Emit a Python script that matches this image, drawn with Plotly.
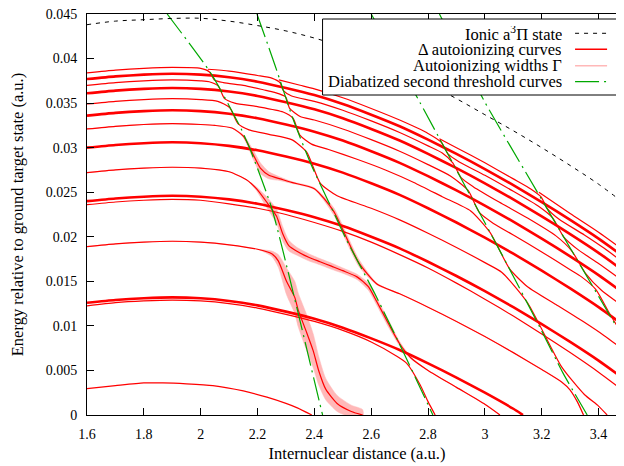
import plotly.graph_objects as go

# ---------------- data (a.u.) ----------------
grid_x = [1.6, 1.7, 1.8, 1.9, 2.0, 2.1, 2.2, 2.3, 2.4, 2.5, 2.6, 2.7, 2.8, 2.9, 3.0, 3.1, 3.2, 3.3, 3.4, 3.5]
ionic_y = [0.0438, 0.0442, 0.04436, 0.0445, 0.04452, 0.0442, 0.0437, 0.0431, 0.0423, 0.0413,
           0.0401, 0.0387, 0.0372, 0.0355, 0.0337, 0.0319, 0.0300, 0.0280, 0.0259, 0.0235]

# thick (non-interacting) autoionizing curves on grid_x
t6_y = [.0377, .0380, .0382, .0383, .0382, .0379, .0374, .0367, .0359, .0349, .0337, .0324, .0309, .0293, .0276, .0258, .0239, .0219, .0198, .0175]
t5_y = [.0361, .0364, .0366, .0367, .0366, .0363, .0358, .0351, .0343, .0333, .0321, .0308, .0293, .0277, .0260, .0242, .0223, .0203, .0182, .0159]
t4_y = [.0336, .0339, .0341, .0342, .0341, .0338, .0333, .0326, .0318, .0308, .0296, .0283, .0268, .0252, .0235, .0217, .0198, .0178, .0157, .0134]
t3_y = [.0300, .0303, .0305, .0306, .0305, .0302, .0297, .0290, .0282, .0272, .0260, .0247, .0232, .0216, .0199, .0181, .0162, .0142, .0121, .0098]
t2_y = [.0240, .0243, .0245, .0246, .0245, .0242, .0237, .0230, .0222, .0212, .0200, .0187, .0172, .0156, .0139, .0121, .0102, .0082, .0061, .0038]
t2p_y = [.0236, .0239, .0241, .0242, .0241, .0237, .0232, .0225, .0216, .0206, .0194, .0180, .0165, .0148, .0130, .0111, .0091, .0070, .0048, .0024]
t1_x = [1.6, 1.7, 1.8, 1.9, 2.0, 2.1, 2.2, 2.3, 2.4, 2.5, 2.6, 2.7, 2.8, 2.9, 3.0, 3.1, 3.134]
t1_y = [.0126, .0129, .0131, .0132, .0131, .0128, .0123, .0116, .0108, .0098, .0086, .0073, .0058, .0042, .0025, .0007, 0.0]

# interacting autoionizing curves (adiabatic)
t1p_x = [1.6, 1.7, 1.8, 1.9, 2.0, 2.1, 2.2, 2.3, 2.4, 2.5, 2.6, 2.69, 2.725, 2.772, 2.80, 2.825]
t1p_y = [.01225, .0126, .0128, .0129, .0128, .0125, .0120, .0113, .0105, .0095, .0082, .0066, .0058, .0034, .0015, 0.0]

a0_x = [1.6, 1.7, 1.8, 1.867, 1.95, 2.043, 2.15, 2.233, 2.3, 2.34, 2.391]
a0_y = [.00297, .0033, .0036, .0036, .0035, .0033, .0027, .0020, .0013, .0008, 0.0]

a1_x = [1.6, 1.7, 1.8, 1.9, 2.0, 2.1, 2.2, 2.25, 2.273, 2.302, 2.331, 2.343, 2.37, 2.396, 2.415, 2.44, 2.48, 2.53, 2.57]
a1_y = [.0189, .0192, .0194, .0195, .0194, .0191, .0186, .0181, .0173, .0150, .0132, .0118, .0095, .0072, .0050, .0029, .0013, .0004, 0.0]
a1_gamma = [0, 0, 0, 0, 0, 0, 0, .0006, .0014, .0030, .0036, .0038, .0040, .0038, .0032, .0024, .0018, .0014, .0012]

a2_x = [1.6, 1.7, 1.8, 1.9, 2.0, 2.1, 2.161, 2.196, 2.232, 2.267, 2.289, 2.31, 2.337, 2.38, 2.42, 2.46, 2.5,
        2.55, 2.59, 2.62, 2.66, 2.70, 2.74, 2.8, 2.9, 3.0, 3.053]
a2_y = [.0272, .0275, .0277, .0278, .0277, .0273, .0264, .0254, .0239, .0223, .0203, .0190, .0184, .0177, .0172,
        .0167, .0162, .0155, .0144, .0127, .0103, .0080, .0064, .0050, .0031, .0012, 0.0]
a2_gamma = [0, 0, 0, 0, 0, 0, 0, .0004, .0012, .0016, .0016, .0012, .0009, .0008, .0007, .0007, .0006,
            .0006, .0008, .0008, .0008, .0005, .0002, 0, 0, 0, 0]

a3_x = [1.6, 1.7, 1.8, 1.9, 2.0, 2.05, 2.11, 2.15, 2.185, 2.21, 2.24, 2.28, 2.32, 2.4, 2.467, 2.556, 2.62, 2.7,
        2.8, 2.9, 3.0, 3.1, 3.2, 3.27, 3.30, 3.325, 3.347]
a3_y = [.0321, .0324, .0326, .0327, .0326, .0325, .0322, .0313, .0292, .0277, .0269, .0265, .0261, .0254, .0229,
        .0171, .0147, .0136, .0121, .0105, .0088, .0070, .0051, .0037, .0028, .0015, 0.0]
a3_gamma = [0, 0, 0, 0, 0, 0, 0, .0003, .0010, .0012, .0008, .0004, .0002, .0002, .0008, .0008, .0002,
            0, 0, 0, 0, 0, 0, 0, 0, 0, 0]

a4_x = [1.6, 1.7, 1.8, 1.9, 2.0, 2.06, 2.102, 2.131, 2.17, 2.24, 2.32, 2.373, 2.421, 2.48, 2.6, 2.7, 2.8,
        2.9, 3.0, 3.06, 3.15, 3.27, 3.35, 3.4, 3.43]
a4_y = [.0349, .0352, .0354, .0355, .0354, .0352, .0345, .0327, .0320, .0315, .0309, .0295, .0260, .0246, .0232,
        .0219, .0204, .0188, .0171, .0160, .0126, .0054, .0023, .0010, 0.0]

a5_x = [1.6, 1.7, 1.8, 1.9, 2.0, 2.03, 2.062, 2.084, 2.12, 2.2, 2.29, 2.325, 2.349, 2.39, 2.45, 2.55, 2.65,
        2.75, 2.85, 2.95, 3.018, 3.087, 3.15, 3.25, 3.35, 3.42, 3.5]
a5_y = [.0370, .0373, .0375, .0376, .0375, .0374, .0369, .0355, .0350, .0346, .0340, .0333, .0314, .0304, .0298,
        .0287, .0275, .0261, .0245, .0229, .0205, .0164, .0144, .0124, .0104, .0089, .0070]

a6_x = [1.6, 1.7, 1.8, 1.9, 2.0, 2.031, 2.048, 2.08, 2.15, 2.22, 2.26, 2.299, 2.313, 2.35, 2.4, 2.5, 2.6, 2.7,
        2.8, 2.88, 2.941, 2.981, 3.03, 3.1, 3.2, 3.3, 3.34, 3.39, 3.44, 3.5]
a6_y = [.0384, .0387, .0389, .0390, .0389, .0385, .0376, .0373, .0370, .0365, .0362, .0357, .0344, .0335, .0331,
        .0321, .0309, .0296, .0281, .0268, .0252, .0227, .0215, .0202, .0183, .0163, .0155, .0141, .0113, .0082]

n1_x = [2.025, 2.1, 2.2, 2.25, 2.279, 2.291, 2.32, 2.4, 2.5, 2.6, 2.7, 2.8, 2.85, 2.887, 2.917, 2.96, 3.05,
        3.15, 3.25, 3.306, 3.354, 3.41, 3.5]
n1_y = [.0388, .0386, .0381, .0378, .0373, .0364, .0358, .0352, .0342, .0330, .0317, .0302, .0294, .0283, .0266,
        .0256, .0239, .0221, .0201, .0184, .0159, .0140, .0119]
n2_x = [2.275, 2.35, 2.4, 2.5, 2.6, 2.7, 2.8, 2.847, 2.87, 2.91, 3.0, 3.1, 3.19, 3.239, 3.277, 3.33, 3.4, 3.5]
n2_y = [.0376, .0370, .0366, .0356, .0344, .0331, .0316, .0306, .0293, .0284, .0269, .0251, .0234, .0221, .0200,
        .0185, .0170, .0147]
n3_x = [2.84, 2.9, 3.0, 3.1, 3.16, 3.197, 3.219, 3.26, 3.35, 3.42, 3.5]
n3_y = [.0310, .0300, .0283, .0265, .0254, .0245, .0232, .0220, .0202, .0187, .0168]
n4_x = [3.19, 3.3, 3.4, 3.5]
n4_y = [.0250, .0226, .0205, .0182]

# diabatized second threshold curves
g1_x = [1.882, 2.039, 2.141, 2.173, 2.250, 2.331, 2.419, 2.429]
g1_y = [.0450, .0382, .0322, .0299, .0232, .0130, .0013, 0.0]
g2_x = [2.198, 2.262, 2.324, 2.39, 2.455, 2.514, 2.613, 2.72, 2.817]
g2_y = [.0450, .0392, .0333, .0280, .0236, .0196, .0136, .0066, 0.0]
g3_x = [2.600, 2.771, 3.06, 3.194, 3.275, 3.36]
g3_y = [.0450, .0351, .0180, .0098, .0047, 0.0]
g4_x = [2.840, 3.0, 3.183, 3.31, 3.465, 3.5]
g4_y = [.0450, .0351, .0251, .0182, .0098, .0079]

x_tick_vals = [1.6, 1.8, 2.0, 2.2, 2.4, 2.6, 2.8, 3.0, 3.2, 3.4]
x_tick_text = ["1.6", "1.8", "2", "2.2", "2.4", "2.6", "2.8", "3", "3.2", "3.4"]
y_tick_vals = [0, 0.005, 0.01, 0.015, 0.02, 0.025, 0.03, 0.035, 0.04, 0.045]
y_tick_text = ["0", "0.005", "0.01", "0.015", "0.02", "0.025", "0.03", "0.035", "0.04", "0.045"]

legend_labels = ["Ionic a<sup>3</sup>Π state", "Δ autoionizing curves",
                 "Autoionizing widths Γ", "Diabatized second threshold curves"]

# ---------------- styles ----------------
RED = "#ff0000"
PINK = "#ffb8b8"
GREEN = "#00a800"
FONT = "Liberation Serif"
FS_TICK = 14
FS_TEXT = 16.5

fig = go.Figure()

def band(xs, ys, gs):
    up = [y + g / 2 for y, g in zip(ys, gs)]
    lo = [y - g / 2 for y, g in zip(ys, gs)]
    fig.add_trace(go.Scatter(x=list(xs) + list(xs)[::-1], y=up + lo[::-1], fill="toself",
                             fillcolor=PINK, mode="lines", line=dict(color=PINK, width=0.5, shape="spline", smoothing=0.6),
                             hoverinfo="skip", showlegend=False))

band(a1_x, a1_y, a1_gamma)
band(a2_x, a2_y, a2_gamma)
band(a3_x, a3_y, a3_gamma)

def red(xs, ys, w=1.2):
    fig.add_trace(go.Scatter(x=xs, y=ys, mode="lines",
                             line=dict(color=RED, width=w, shape="spline", smoothing=0.6),
                             showlegend=False, hoverinfo="skip"))

for ys in [t6_y, t5_y, t4_y, t3_y, t2_y]:
    red(grid_x, ys, 2.6)
red(grid_x, t2p_y)
red(t1_x, t1_y, 2.6)
red(t1p_x, t1p_y)
for xs, ys in [(a0_x, a0_y), (a1_x, a1_y), (a2_x, a2_y), (a3_x, a3_y), (a4_x, a4_y),
               (a5_x, a5_y), (a6_x, a6_y), (n1_x, n1_y), (n2_x, n2_y), (n3_x, n3_y), (n4_x, n4_y)]:
    red(xs, ys)

for xs, ys in [(g1_x, g1_y), (g2_x, g2_y), (g3_x, g3_y), (g4_x, g4_y)]:
    fig.add_trace(go.Scatter(x=xs, y=ys, mode="lines",
                             line=dict(color=GREEN, width=1.2, dash="24px,5px,2px,5px", shape="spline", smoothing=0.6),
                             showlegend=False, hoverinfo="skip"))

fig.add_trace(go.Scatter(x=grid_x, y=ionic_y, mode="lines",
                         line=dict(color="black", width=1, dash="4px,5px", shape="spline"),
                         showlegend=False, hoverinfo="skip"))

# ---------------- legend (gnuplot style: text right, sample at right) ----------------
shapes = [dict(type="rect", xref="paper", yref="paper", x0=0.4362, x1=0.9828, y0=0.798, y1=0.9875,
               fillcolor="white", line=dict(color="black", width=1), layer="above")]
row_y = [0.9519, 0.912, 0.8711, 0.8312]
samples = [dict(color="black", width=1, dash="4px,5px"),
           dict(color=RED, width=1.5),
           dict(color=PINK, width=1.5),
           dict(color=GREEN, width=1.2, dash="24px,5px,2px,5px")]
annotations = []
for yy, lab, ln in zip(row_y, legend_labels, samples):
    shapes.append(dict(type="line", xref="paper", yref="paper", x0=0.9038, x1=0.9631, y0=yy, y1=yy,
                       line=ln, layer="above"))
    annotations.append(dict(xref="paper", yref="paper", x=0.8814, y=yy, text=lab, showarrow=False,
                            xanchor="right", yanchor="middle", height=15, valign="middle", borderpad=0,
                            font=dict(family=FONT, size=FS_TEXT, color="black")))

axis_common = dict(showgrid=False, zeroline=False, ticks="inside", ticklen=7, tickcolor="black",
                   showline=True, linecolor="black", linewidth=1, mirror="ticks", automargin=False,
                   ticklabeloverflow="allow",
                   tickfont=dict(family=FONT, size=FS_TICK, color="black"))

fig.update_layout(
    width=624, height=466,
    margin=dict(l=79, r=5, t=6, b=59),
    paper_bgcolor="white", plot_bgcolor="white",
    showlegend=False,
    shapes=shapes, annotations=annotations,
    xaxis=dict(range=[1.6, 3.5], tickvals=x_tick_vals, ticktext=x_tick_text, ticklabelstandoff=6,
               title=dict(text="Internuclear distance (a.u.)", font=dict(family=FONT, size=FS_TEXT, color="black"), standoff=6),
               **axis_common),
    yaxis=dict(range=[0, 0.045], tickvals=y_tick_vals, ticktext=y_tick_text, ticklabelstandoff=6,
               title=dict(text="Energy relative to ground target state (a.u.)", font=dict(family=FONT, size=FS_TEXT, color="black"), standoff=19),
               **axis_common),
)

fig.write_html("out.html")
